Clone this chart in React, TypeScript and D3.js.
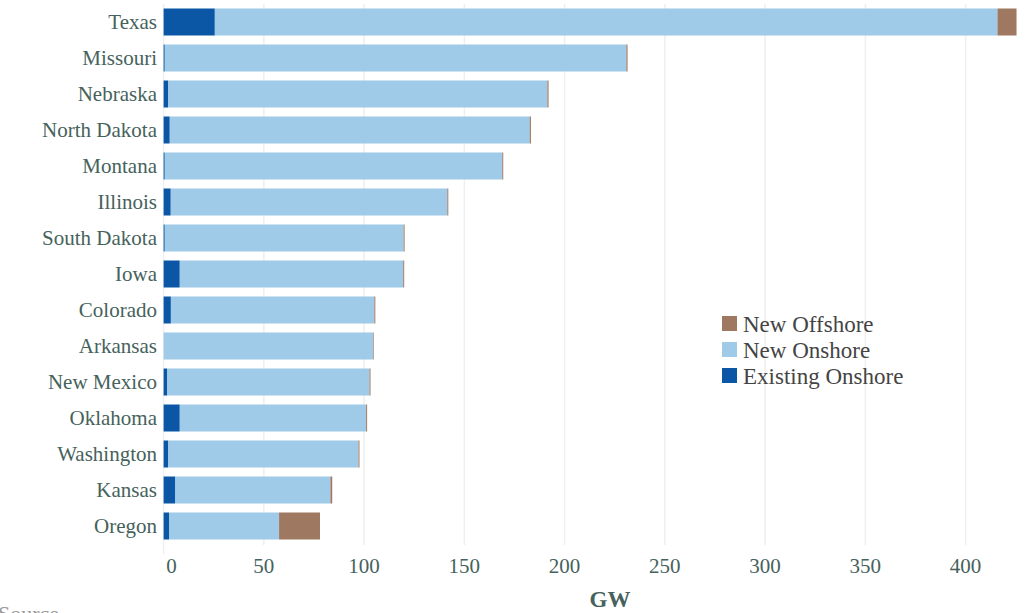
import React from "react";
import * as d3 from "d3";

const states = ["Texas","Missouri","Nebraska","North Dakota","Montana","Illinois","South Dakota","Iowa","Colorado","Arkansas","New Mexico","Oklahoma","Washington","Kansas","Oregon"];
const existingOnshore = [25.5,0.5,2.2,3,0.5,3.5,0.5,8,3.6,0,1.7,8,2.2,5.7,2.7];
const newOnshore = [390.4,230.3,189.2,179.6,168.4,138,119.2,111.5,101.5,104.6,101,93,95,77.5,54.9];
const newOffshore = [9.5,0.6,0.6,0.6,0.5,0.5,0.5,0.5,0.5,0.3,0.5,0.5,0.5,0.9,20.4];
const xTicks = [0,50,100,150,200,250,300,350,400];
const seriesNames = ["New Offshore","New Onshore","Existing Onshore"];
const colors = { existing: "#0c56a6", onshore: "#9fcae8", offshore: "#9e7861" };

export default function App() {
  const W = 1032, H = 613;
  const x = d3.scaleLinear().domain([0, 400]).range([163.6, 965.6]);
  const y = d3.scaleBand().domain(states).range([4, 544]).paddingInner(0.25).paddingOuter(0.125);
  const font = "Georgia, 'Liberation Serif', serif";
  const textCol = "#46625c";
  return (
    <svg width={W} height={H} style={{ position: "absolute", left: 0, top: 0 }} fontFamily={font}>
      {xTicks.map((t) => (
        <line key={t} x1={x(t)} x2={x(t)} y1={4} y2={t === 0 ? 554 : 545} stroke="#efefef" strokeWidth={1.5} />
      ))}
      {states.map((s, i) => {
        const y0 = y(s)!;
        const bh = y.bandwidth();
        const e = existingOnshore[i], o = newOnshore[i], f = newOffshore[i];
        return (
          <g key={s}>
            <rect x={x(e)} y={y0} width={x(e + o) - x(e)} height={bh} fill={colors.onshore} />
            {e > 0 && <rect x={x(0)} y={y0} width={x(e) - x(0)} height={bh} fill={colors.existing} />}
            {f > 0 && <rect x={x(e + o)} y={y0} width={x(e + o + f) - x(e + o)} height={bh} fill={colors.offshore} />}
            <text x={157} y={y0 + bh / 2} dy="0.35em" textAnchor="end" fontSize={21} fill={textCol}>{s}</text>
          </g>
        );
      })}
      {xTicks.map((t) => (
        <text key={"l" + t} x={t === 0 ? x(t) + 8 : x(t)} y={573} textAnchor="middle" fontSize={21} fill={textCol}>{t}</text>
      ))}
      <text x={610} y={607} textAnchor="middle" fontSize={23} fontWeight="bold" fill={textCol}>GW</text>
      <text x={-2} y={621} fontSize={22} fill="#999">Source</text>
      {seriesNames.map((n, i) => {
        const c = i === 0 ? colors.offshore : i === 1 ? colors.onshore : colors.existing;
        return (
          <g key={n}>
            <rect x={722} y={316 + i * 26} width={15} height={15} fill={c} />
            <text x={743} y={324 + i * 26} dy="0.35em" fontSize={23} fill="#444">{n}</text>
          </g>
        );
      })}
    </svg>
  );
}
